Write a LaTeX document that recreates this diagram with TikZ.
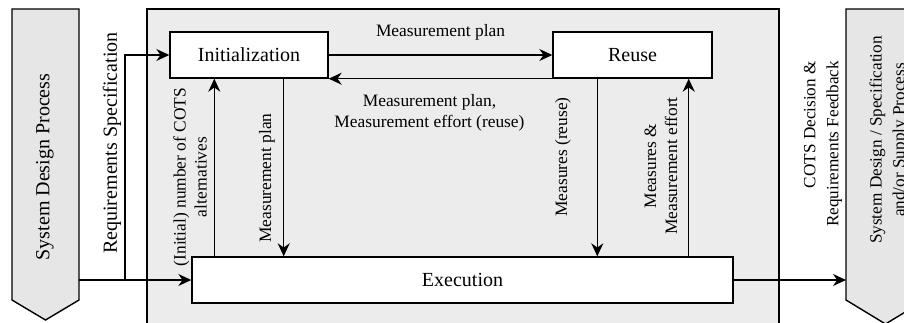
\documentclass[tikz,border=0pt]{standalone}
\usepackage{fontspec}
\setmainfont{Liberation Serif}
\usetikzlibrary{arrows.meta}

\begin{document}
\begin{tikzpicture}[x=0.5pt, y=-0.5pt, line width=0.6pt, >={Stealth[length=6.5pt,width=6pt]}]
    % Define colors
    \definecolor{panelgray}{RGB}{236,236,236}
    \definecolor{chevrongray}{RGB}{230,230,230}
    \tikzset{
        procbox/.style={draw, fill=white, line width=0.7pt, minimum width=#1, minimum height=23pt, font=\fontsize{10}{12}\selectfont},
        flowlabel/.style={font=\fontsize{8.7}{10.5}\selectfont, align=center},
        bigtext/.style={font=\fontsize{10}{12}\selectfont, align=center},
        sidetext/.style={font=\fontsize{8.6}{11.5}\selectfont, align=center},
    }
    \useasboundingbox (0,0) rectangle (904,322);
    \clip (0,0) rectangle (904,322);

    % Outer processes (chevrons)
    \draw[fill=chevrongray, line width=0.7pt] (12,9) -- (79,9) -- (79,300) -- (45.5,320) -- (12,300) -- cycle;
    \draw[fill=chevrongray, line width=0.7pt] (846,9) -- (925,9) -- (925,300) -- (885.5,324) -- (846,300) -- cycle;
    \node[bigtext, rotate=90] (sdp) at (45,167) {System Design Process};
    \node[sidetext, rotate=90] (supply) at (889,140) {System Design / Specification\\and/or Supply Process};
    \coordinate (chevout) at (79,280);
    \coordinate (chevin) at (846,280);

    % COTS assessment panel
    \draw[fill=panelgray, line width=0.7pt] (147,9) rectangle (779,340);

    % Activities
    \node[procbox=79pt] (init) at (249,55) {Initialization};
    \node[procbox=79.5pt] (reuse) at (632.5,55) {Reuse};
    \node[procbox=270.5pt] (exec) at (462.5,280) {Execution};

    % Flows between activities
    \draw[->] (init.east) -- (reuse.west)
        node[midway, above=4pt, flowlabel] (planlbl) {Measurement plan};
    \draw[->] (reuse.south west) -- (init.south east)
        node[midway, below=4pt, xshift=-5.5pt, flowlabel] (effortlbl) {Measurement plan,\\Measurement effort (reuse)};
    \draw[->] ([xshift=22.5pt]init.south west |- exec.north) -- ([xshift=22.5pt]init.south west);
    \draw[->] ([xshift=-22.5pt]init.south east) -- ([xshift=-22.5pt]init.south east |- exec.north);
    \draw[->] ([xshift=22.5pt]reuse.south west) -- ([xshift=22.5pt]reuse.south west |- exec.north);
    \draw[->] ([xshift=-12pt]reuse.south east |- exec.north) -- ([xshift=-12pt]reuse.south east);

    % Labels on vertical flows
    \node[flowlabel, rotate=90] (altlbl) at (190,177) {(Initial) number of COTS\\alternatives};
    \node[flowlabel, rotate=90] (mplbl) at (267,178) {Measurement plan};
    \node[flowlabel, rotate=90] (reuselbl) at (563,157) {Measures (reuse)};
    \node[flowlabel, rotate=90] (measlbl) at (661,166) {Measures \&\\Measurement effort};

    % Input and output
    \coordinate (split) at (125,0);
    \draw[->] (chevout) -- (exec.west);
    \draw[->] (split |- exec.west) |- (init.west);
    \node[bigtext, rotate=90] (reqlbl) at (112,143) {Requirements Specification};
    \draw[->] (exec.east) -- (chevin);
    \node[sidetext, rotate=90, align=right] (declbl) at (823,144) {COTS Decision \&\\Requirements Feedback};
\end{tikzpicture}
\end{document}
